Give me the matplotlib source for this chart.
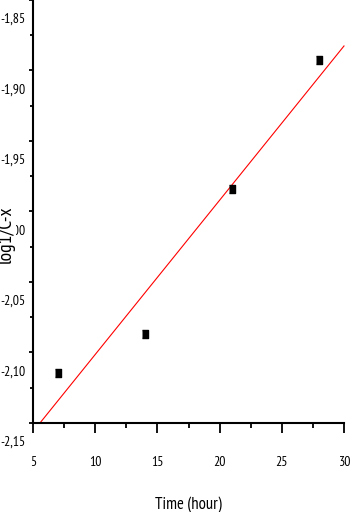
import numpy as np
import matplotlib.pyplot as plt
from matplotlib.ticker import MultipleLocator, FuncFormatter
from matplotlib.transforms import ScaledTranslation

plt.rcParams['font.family'] = ['PT Sans Narrow', 'DejaVu Sans']

# data
time_h = [7, 14, 21, 28]
log_val = [-2.1145, -2.087, -1.984, -1.8926]
# fitted line ends (red)
fit_x = [5.56, 30.0]
fit_y = [-2.15, -1.8826]

fig = plt.figure(figsize=(3.5, 5.12), dpi=100)
ax = fig.add_axes([33/350, 89/512, 311/350, 423/512])

rect = [(-0.33, -0.5), (0.33, -0.5), (0.33, 0.5), (-0.33, 0.5)]
ax.plot(fit_x, fit_y, color='red', lw=0.8, clip_on=False)
ax.plot(time_h, log_val, ls='none', marker=rect, ms=5.8, color='black', clip_on=False)

ax.set_xlim(5, 30)
ax.set_ylim(-2.15, -1.85)
ax.xaxis.set_major_locator(MultipleLocator(5))
ax.xaxis.set_minor_locator(MultipleLocator(2.5))
ax.yaxis.set_major_locator(MultipleLocator(0.05))
ax.yaxis.set_minor_locator(MultipleLocator(0.025))
ax.yaxis.set_major_formatter(FuncFormatter(lambda v, p: f'{v:.2f}'.replace('.', ',')))

for s in ['top', 'right']:
    ax.spines[s].set_visible(False)
for s in ['left', 'bottom']:
    ax.spines[s].set_linewidth(1.5)

ax.tick_params(axis='x', which='major', direction='out', length=7, width=1.3, pad=17, labelsize=10)
ax.tick_params(axis='x', which='minor', direction='out', length=3.6, width=1.3)
ax.tick_params(axis='y', which='major', direction='out', length=3, width=1.3, pad=2, labelsize=10)
ax.tick_params(axis='y', which='minor', direction='out', length=2, width=1.3)

# y tick labels sit a bit under their ticks
off = ScaledTranslation(0, -18/100, fig.dpi_scale_trans)
for lab in ax.get_yticklabels():
    lab.set_transform(lab.get_transform() + off)

ax.set_xlabel('Time (hour)', fontsize=12)
ax.xaxis.set_label_coords(0.5, -74/423)
ax.set_ylabel('log1/C-x', fontsize=14,
              bbox=dict(facecolor='white', edgecolor='none', pad=1))
ax.yaxis.set_label_coords(-18/311, 189/423)

fig.savefig('out.png', dpi=100)
